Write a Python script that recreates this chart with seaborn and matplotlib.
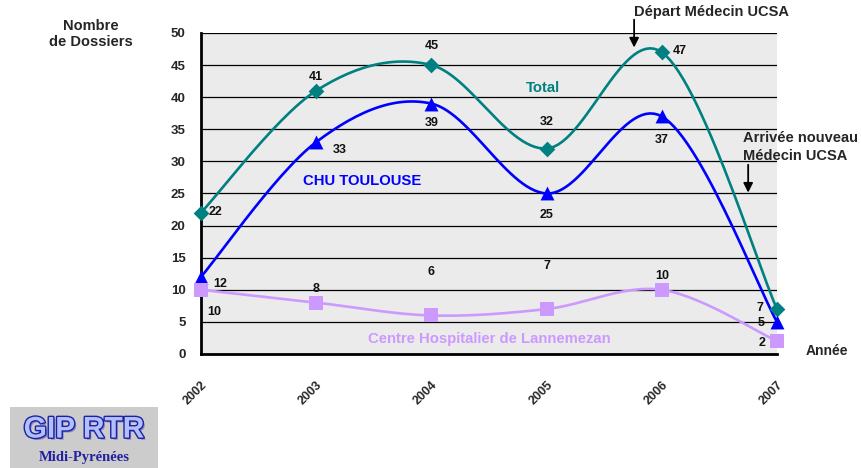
import numpy as np
import pandas as pd
import matplotlib.pyplot as plt
import matplotlib.patheffects as pe
import seaborn as sns

annees = [2002, 2003, 2004, 2005, 2006, 2007]
total = [22, 41, 45, 32, 47, 7]
chu = [12, 33, 39, 25, 37, 5]
lannemezan = [10, 8, 6, 7, 10, 2]
y_ticks = [0, 5, 10, 15, 20, 25, 30, 35, 40, 45, 50]

sns.set_style('white')
plt.rcParams['font.family'] = ['Liberation Sans', 'DejaVu Sans']
plt.rcParams['font.weight'] = 'bold'


# courbe lissee facon Excel (Bezier / Catmull-Rom) passant par les points
def lisser(xs, ys, n=30):
    xs = np.asarray(xs, float)
    ys = np.asarray(ys, float)
    px = np.concatenate([[xs[0]], xs, [xs[-1]]])
    py = np.concatenate([[ys[0]], ys, [ys[-1]]])
    out_x, out_y = [], []
    t = np.linspace(0, 1, n)
    for i in range(1, len(px) - 2):
        x0, x3 = px[i], px[i + 1]
        y0, y3 = py[i], py[i + 1]
        x1 = x0 + (px[i + 1] - px[i - 1]) / 6
        y1 = y0 + (py[i + 1] - py[i - 1]) / 6
        x2 = x3 - (px[i + 2] - px[i]) / 6
        y2 = y3 - (py[i + 2] - py[i]) / 6
        bx = (1-t)**3*x0 + 3*(1-t)**2*t*x1 + 3*(1-t)*t**2*x2 + t**3*x3
        by = (1-t)**3*y0 + 3*(1-t)**2*t*y1 + 3*(1-t)*t**2*y2 + t**3*y3
        out_x.extend(bx)
        out_y.extend(by)
    return out_x, out_y


fig = plt.figure(figsize=(8.61, 4.68), dpi=100)
ax = fig.add_axes([0.2334, 0.2436, 0.669, 0.686])
ax.set_facecolor('#EBEBEB')

series = [
    ('Total', total, '#008080', 'D', 8),
    ('CHU', chu, '#0000FF', '^', 10),
    ('Lannemezan', lannemezan, '#CC99FF', 's', 10),
]

for nom, vals, col, mk, ms in series:
    sx, sy = lisser(annees, vals)
    d = pd.DataFrame({'x': sx, 'y': sy})
    sns.lineplot(data=d, x='x', y='y', ax=ax, color=col, lw=1.9,
                 sort=False, estimator=None, zorder=3)
    pts = pd.DataFrame({'x': annees, 'y': vals})
    sns.scatterplot(data=pts, x='x', y='y', ax=ax, color=col, marker=mk,
                    s=ms**2, linewidth=0, zorder=4, clip_on=False)

ax.set_xlim(2002, 2007)
ax.set_ylim(0, 50)
ax.set_yticks(y_ticks)
ax.set_xticks(annees)
ax.set_xticklabels([str(a) for a in annees], rotation=45, ha='right',
                   va='top', rotation_mode='anchor', fontsize=9, fontweight='bold')
ax.set_yticklabels([str(v) for v in y_ticks], fontsize=9.5, fontweight='bold')
ax.set_xlabel('')
ax.set_ylabel('')
ax.grid(axis='y', color='black', lw=0.9)
ax.set_axisbelow(True)
for s in ['top', 'right']:
    ax.spines[s].set_visible(False)
for s in ['left', 'bottom']:
    ax.spines[s].set_linewidth(2)
    ax.spines[s].set_color('black')
ax.tick_params(axis='both', direction='out', length=4, width=2, color='black')
ax.tick_params(axis='y', pad=7)
ax.tick_params(axis='x', pad=14)

# etiquettes des valeurs (decalages en pixels)
kw = dict(fontsize=9, fontweight='bold', color='#111111')
etiquettes = [
    (2002, 22, 8, 1, 'left', 'center'),
    (2003, 41, 0, 14, 'center', 'center'),
    (2004, 45, 0, 19, 'center', 'center'),
    (2005, 32, 0, 27, 'center', 'center'),
    (2006, 47, 11, 1, 'left', 'center'),
    (2007, 7, -14, 1, 'right', 'center'),
    (2002, 12, 12, -7, 'left', 'center'),
    (2003, 33, 17, -8, 'left', 'center'),
    (2004, 39, 0, -19, 'center', 'center'),
    (2005, 25, 0, -22, 'center', 'center'),
    (2006, 37, 0, -24, 'center', 'center'),
    (2007, 5, -12, -1, 'right', 'center'),
    (2002, 10, 13, -22, 'center', 'center'),
    (2003, 8, 0, 14, 'center', 'center'),
    (2004, 6, 0, 43, 'center', 'center'),
    (2005, 7, 0, 43, 'center', 'center'),
    (2006, 10, 0, 14, 'center', 'center'),
    (2007, 2, -11, -2, 'right', 'center'),
]
for x, y, dx, dy, ha, va in etiquettes:
    ax.annotate(str(y), (x, y), xytext=(dx, dy), textcoords='offset pixels',
                ha=ha, va=va, annotation_clip=False, **kw)

ax.text(2004.97, 41.4, 'Total', color='#008080', fontsize=10.7,
        fontweight='bold', ha='center', va='center')
ax.text(2003.4, 27.0, 'CHU TOULOUSE', color='#0000FF', fontsize=10.7,
        fontweight='bold', ha='center', va='center')
ax.text(2004.5, 2.3, 'Centre Hospitalier de Lannemezan', color='#CC99FF',
        fontsize=10.7, fontweight='bold', ha='center', va='center')

# fleches
ax.annotate('', xy=(2005.76, 47.3), xytext=(2005.76, 52.5),
            arrowprops=dict(arrowstyle='-|>', color='black', lw=1.3,
                            mutation_scale=14), annotation_clip=False)
ax.annotate('', xy=(2006.75, 24.7), xytext=(2006.75, 29.9),
            arrowprops=dict(arrowstyle='-|>', color='black', lw=1.3,
                            mutation_scale=14), annotation_clip=False)

fig.text(711 / 861, 1 - 12 / 468, 'Départ Médecin UCSA', fontsize=10.5,
         fontweight='bold', ha='center', va='center')
fig.text(743 / 861, 1 - 147 / 468, 'Arrivée nouveau\nMédecin UCSA',
         fontsize=10.5, fontweight='bold', ha='left', va='center',
         linespacing=1.4)
fig.text(91 / 861, 1 - 34 / 468, 'Nombre\nde Dossiers', fontsize=10.5,
         fontweight='bold', ha='center', va='center', linespacing=1.25)
fig.text(827 / 861, 1 - 351 / 468, 'Année', fontsize=10,
         fontweight='bold', ha='center', va='center')

# logo
logo = fig.add_axes([10 / 861, 0, 148 / 861, 61 / 468])
logo.set_facecolor('#CCCCCC')
logo.set_xticks([])
logo.set_yticks([])
for s in logo.spines.values():
    s.set_visible(False)
logo.text(0.5, 0.63, 'GIP RTR', fontsize=21.5, fontweight='bold',
          color='#B0C0FF', ha='center', va='center',
          path_effects=[pe.withSimplePatchShadow(offset=(1.5, -1.5),
                                                 shadow_rgbFace='#7070C0',
                                                 alpha=0.8),
                        pe.withStroke(linewidth=2, foreground='#2020A0')])
logo.text(0.5, 0.17, 'Midi-Pyrénées', fontsize=10.5, fontweight='bold',
          color='#2020A0', ha='center', va='center',
          family=['Liberation Serif', 'DejaVu Serif'])

fig.savefig('out.png', dpi=100)
